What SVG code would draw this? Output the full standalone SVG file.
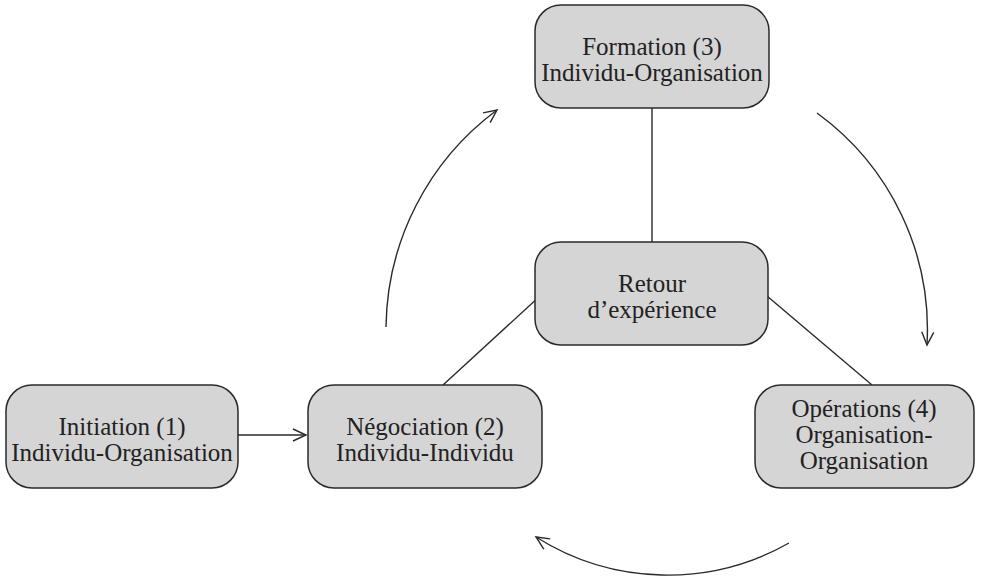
<svg xmlns="http://www.w3.org/2000/svg" width="990" height="580" viewBox="0 0 990 580">
<style>
.box{fill:#d5d5d5;stroke:#2a2a2a;stroke-width:1.5}
.t{font-family:"Liberation Serif","Times New Roman",serif;font-size:25px;fill:#222;text-anchor:middle}
.c{fill:none;stroke:#2a2a2a;stroke-width:1.4}
</style>
<defs>
<marker id="ah" markerWidth="16" markerHeight="14" refX="14" refY="7" orient="auto" markerUnits="userSpaceOnUse">
<path d="M1,1 L14,7 L1,13" fill="none" stroke="#2a2a2a" stroke-width="1.4"/>
</marker>
</defs>
<rect width="990" height="580" fill="#fff"/>
<g id="connectors">
<line class="c" x1="652" y1="108" x2="652" y2="242"/>
<line class="c" x1="540" y1="296" x2="443" y2="385"/>
<line class="c" x1="767" y1="296" x2="872" y2="385"/>
<line class="c" x1="238" y1="435" x2="306" y2="435" marker-end="url(#ah)"/>
<path class="c" d="M386,327 A274,274 0 0 1 497,110" marker-end="url(#ah)"/>
<path class="c" d="M817,113 A268,268 0 0 1 927,345" marker-end="url(#ah)"/>
<path class="c" d="M789,543 A246,246 0 0 1 536,537" marker-end="url(#ah)"/>
</g>
<g id="formation">
<rect class="box" x="535" y="5" width="234" height="103" rx="26"/>
<text class="t" x="652" y="55">Formation (3)</text>
<text class="t" x="652" y="81">Individu-Organisation</text>
</g>
<g id="retour">
<rect class="box" x="535" y="242" width="233" height="103" rx="26"/>
<text class="t" x="652" y="292">Retour</text>
<text class="t" x="652" y="318">d’expérience</text>
</g>
<g id="initiation">
<rect class="box" x="6" y="385" width="232" height="103" rx="26"/>
<text class="t" x="122" y="435">Initiation (1)</text>
<text class="t" x="122" y="461">Individu-Organisation</text>
</g>
<g id="negociation">
<rect class="box" x="308" y="385" width="234" height="103" rx="26"/>
<text class="t" x="425" y="435">Négociation (2)</text>
<text class="t" x="425" y="461">Individu-Individu</text>
</g>
<g id="operations">
<rect class="box" x="755" y="385" width="219" height="103" rx="26"/>
<text class="t" x="864" y="417">Opérations (4)</text>
<text class="t" x="864" y="443">Organisation-</text>
<text class="t" x="864" y="469">Organisation</text>
</g>
</svg>
